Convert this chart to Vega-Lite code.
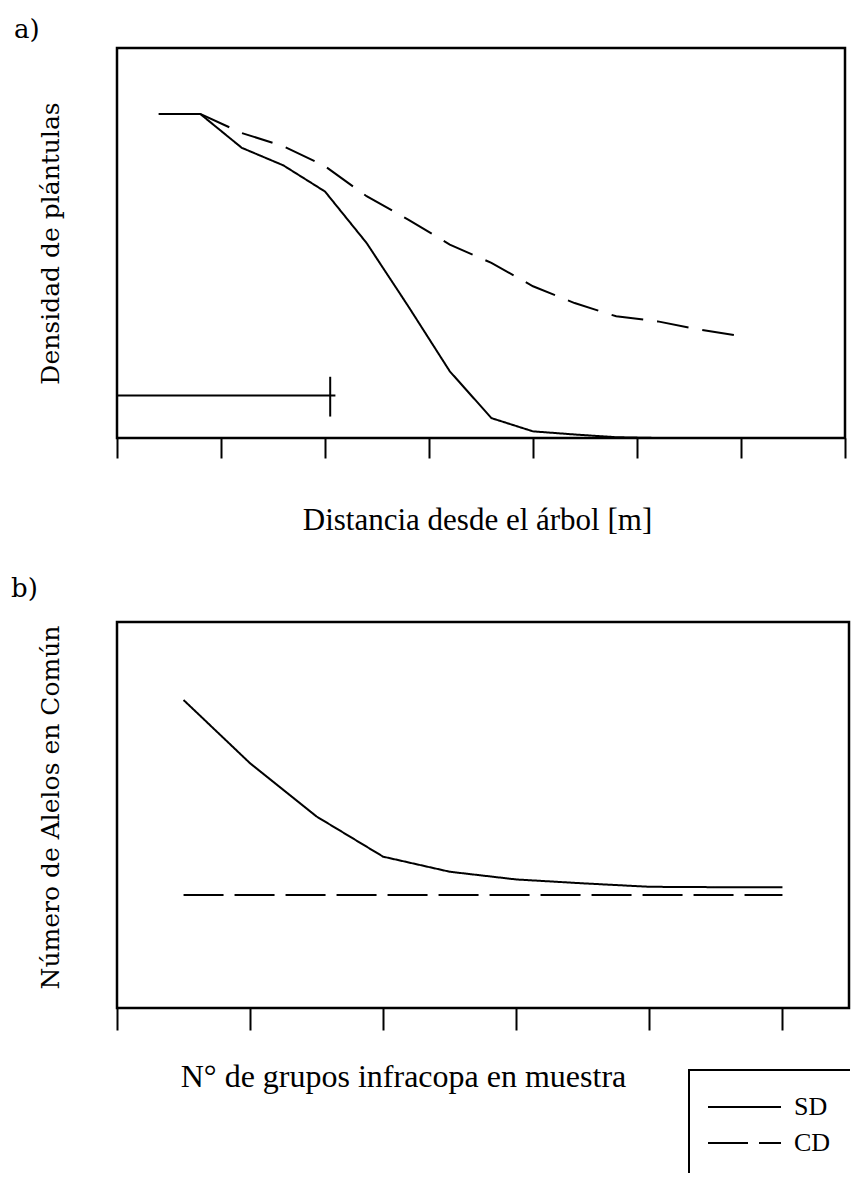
{
  "$schema": "https://vega.github.io/schema/vega-lite/v6.json",
  "background": "white",
  "padding": {"left": 9, "top": 15, "right": 0, "bottom": 0},
  "spacing": 37,
  "datasets": {
    "densidad": [
      {"serie": "SD", "distancia": 0.4, "densidad": 83.1},
      {"serie": "SD", "distancia": 0.8, "densidad": 83.1},
      {"serie": "SD", "distancia": 1.2, "densidad": 74.4},
      {"serie": "SD", "distancia": 1.6, "densidad": 69.9},
      {"serie": "SD", "distancia": 2.0, "densidad": 63.2},
      {"serie": "SD", "distancia": 2.4, "densidad": 50.0},
      {"serie": "SD", "distancia": 2.8, "densidad": 33.8},
      {"serie": "SD", "distancia": 3.2, "densidad": 17.1},
      {"serie": "SD", "distancia": 3.6, "densidad": 5.1},
      {"serie": "SD", "distancia": 4.0, "densidad": 1.7},
      {"serie": "SD", "distancia": 4.4, "densidad": 0.9},
      {"serie": "SD", "distancia": 4.8, "densidad": 0.2},
      {"serie": "SD", "distancia": 5.2, "densidad": 0},
      {"serie": "SD", "distancia": 5.6, "densidad": 0},
      {"serie": "SD", "distancia": 6.0, "densidad": 0},
      {"serie": "CD", "distancia": 0.8, "densidad": 83.1},
      {"serie": "CD", "distancia": 1.2, "densidad": 78.2},
      {"serie": "CD", "distancia": 1.6, "densidad": 74.8},
      {"serie": "CD", "distancia": 2.0, "densidad": 69.7},
      {"serie": "CD", "distancia": 2.4, "densidad": 62.0},
      {"serie": "CD", "distancia": 2.8, "densidad": 56.0},
      {"serie": "CD", "distancia": 3.2, "densidad": 49.6},
      {"serie": "CD", "distancia": 3.6, "densidad": 44.9},
      {"serie": "CD", "distancia": 4.0, "densidad": 38.9},
      {"serie": "CD", "distancia": 4.4, "densidad": 34.6},
      {"serie": "CD", "distancia": 4.8, "densidad": 31.2},
      {"serie": "CD", "distancia": 5.2, "densidad": 29.9},
      {"serie": "CD", "distancia": 5.6, "densidad": 27.8},
      {"serie": "CD", "distancia": 6.0, "densidad": 26.1}
    ],
    "escala": [
      {"distancia": 0, "distancia2": 2.1, "densidad": 10.9, "densidad2": 10.9},
      {"distancia": 2.05, "distancia2": 2.05, "densidad": 5.5, "densidad2": 15.7}
    ],
    "alelos": [
      {"serie": "SD", "grupos": 0.5, "alelos": 79.8},
      {"serie": "SD", "grupos": 1.0, "alelos": 63.4},
      {"serie": "SD", "grupos": 1.5, "alelos": 49.6},
      {"serie": "SD", "grupos": 2.0, "alelos": 39.2},
      {"serie": "SD", "grupos": 2.5, "alelos": 35.3},
      {"serie": "SD", "grupos": 3.0, "alelos": 33.3},
      {"serie": "SD", "grupos": 3.5, "alelos": 32.3},
      {"serie": "SD", "grupos": 4.0, "alelos": 31.4},
      {"serie": "SD", "grupos": 4.5, "alelos": 31.3},
      {"serie": "SD", "grupos": 5.0, "alelos": 31.3},
      {"serie": "CD", "grupos": 0.5, "alelos": 29.3},
      {"serie": "CD", "grupos": 5.0, "alelos": 29.3}
    ]
  },
  "config": {
    "view": {"stroke": "black", "strokeWidth": 2.5},
    "axis": {"grid": false, "domain": false, "labels": false, "titleColor": "black", "titleFontWeight": "normal"},
    "title": {"font": "DejaVu Serif", "fontSize": 26, "fontWeight": "normal", "color": "black", "anchor": "start", "frame": "group"},
    "legend": {"strokeColor": "black", "strokeWidth": 2, "strokeDash": [161, 264, 140]}
  },
  "resolve": {
    "scale": {"strokeDash": "independent", "x": "independent", "y": "independent"},
    "legend": {"strokeDash": "independent"}
  },
  "vconcat": [
    {
      "width": 728,
      "height": 390,
      "title": {"text": "a)", "dx": -103, "offset": 5},
      "layer": [
        {
          "data": {"name": "densidad"},
          "mark": {"type": "line", "color": "black", "strokeWidth": 2},
          "encoding": {
            "x": {
              "field": "distancia", "type": "quantitative", "title": "Distancia desde el árbol [m]",
              "scale": {"domain": [0, 7], "nice": false, "zero": false},
              "axis": {"values": [0, 1, 2, 3, 4, 5, 6, 7], "ticks": true, "tickSize": 20, "tickWidth": 2, "tickColor": "black",
                       "titleFont": "Liberation Serif", "titleFontSize": 31, "titleX": 360, "titleY": 91,
                       "titleBaseline": "alphabetic", "titleAlign": "center"}
            },
            "y": {
              "field": "densidad", "type": "quantitative", "title": "Densidad de plántulas",
              "scale": {"domain": [0, 100], "nice": false},
              "axis": {"ticks": false, "titleFont": "DejaVu Serif", "titleFontSize": 25, "titleX": -59, "titleY": 195,
                       "titleBaseline": "alphabetic", "titleAlign": "center", "titleAngle": -90}
            },
            "strokeDash": {"field": "serie", "type": "nominal", "scale": {"domain": ["SD", "CD"], "range": [[1, 0], [32, 14]]}, "legend": null}
          }
        },
        {
          "data": {"name": "escala"},
          "mark": {"type": "rule", "color": "black", "strokeWidth": 2},
          "encoding": {
            "x": {"field": "distancia", "type": "quantitative", "title": "Distancia desde el árbol [m]"},
            "x2": {"field": "distancia2"},
            "y": {"field": "densidad", "type": "quantitative", "title": "Densidad de plántulas"},
            "y2": {"field": "densidad2"}
          }
        }
      ]
    },
    {
      "width": 732,
      "height": 386,
      "title": {"text": "b)", "dx": -106, "offset": 20},
      "data": {"name": "alelos"},
      "mark": {"type": "line", "color": "black", "strokeWidth": 2},
      "encoding": {
        "x": {
          "field": "grupos", "type": "quantitative", "title": "N° de grupos infracopa en muestra",
          "scale": {"domain": [0, 5.5], "nice": false, "zero": false},
          "axis": {"values": [0, 1, 2, 3, 4, 5], "ticks": true, "tickSize": 22, "tickWidth": 2, "tickColor": "black",
                   "titleFont": "Liberation Serif", "titleFontSize": 32, "titleX": 286, "titleY": 78,
                   "titleBaseline": "alphabetic", "titleAlign": "center"}
        },
        "y": {
          "field": "alelos", "type": "quantitative", "title": "Número de Alelos en Común",
          "scale": {"domain": [0, 100], "nice": false},
          "axis": {"ticks": false, "titleFont": "DejaVu Serif", "titleFontSize": 25, "titleX": -59, "titleY": 185,
                   "titleBaseline": "alphabetic", "titleAlign": "center", "titleAngle": -90}
        },
        "strokeDash": {
          "field": "serie", "type": "nominal",
          "scale": {"domain": ["SD", "CD"], "range": [[1, 0], [40, 11]]},
          "legend": {
            "orient": "none", "legendX": 572, "legendY": 448, "title": null,
            "symbolType": "M-1,0H3.056", "symbolSize": 1296, "symbolStrokeWidth": 2, "symbolStrokeColor": "black",
            "labelFont": "Liberation Serif", "labelFontSize": 26, "labelColor": "black", "labelOffset": 49,
            "padding": 18, "rowPadding": 4
          }
        }
      }
    }
  ]
}
